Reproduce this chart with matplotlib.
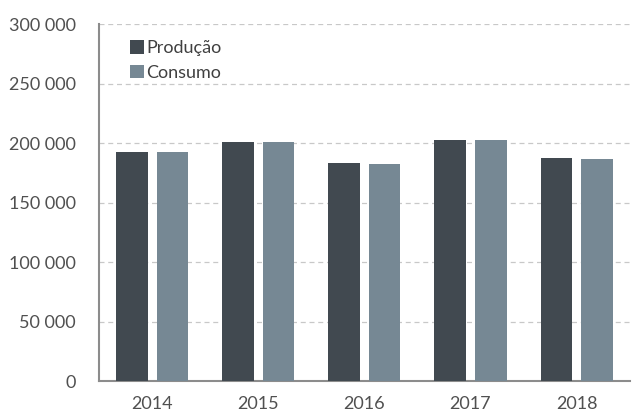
import numpy as np
import matplotlib.pyplot as plt
from matplotlib.ticker import FuncFormatter

years = ['2014', '2015', '2016', '2017', '2018']
producao = [192500, 201200, 182900, 202300, 187100]
consumo = [192400, 201100, 182800, 202200, 187000]

plt.rcParams['font.family'] = ['Lato', 'DejaVu Sans']

def main():
    fig = plt.figure(figsize=(6.36, 4.16), dpi=100)
    ax = fig.add_axes([0.156, 0.084, 0.834, 0.858])

    x = np.arange(len(years))
    w = 0.30
    ax.bar(x - 0.19, producao, w, color='#414950', label='Produção', zorder=3)
    ax.bar(x + 0.19, consumo, w, color='#768894', label='Consumo', zorder=3)

    ax.set_ylim(0, 300000)
    ax.set_xlim(-0.5, len(years) - 0.5)
    ax.set_yticks(np.arange(0, 300001, 50000))
    ax.yaxis.set_major_formatter(FuncFormatter(lambda v, p: f'{int(v):,}'.replace(',', ' ')))
    ax.set_xticks(x)
    ax.set_xticklabels(years)

    ax.grid(axis='y', linestyle=(0, (4, 3)), color='#c8c8c8', linewidth=0.9, zorder=0)
    for s in ['top', 'right']:
        ax.spines[s].set_visible(False)
    ax.spines['left'].set_color('#8c8c8c')
    ax.spines['left'].set_linewidth(1.5)
    ax.spines['bottom'].set_color('#8c8c8c')
    ax.spines['bottom'].set_linewidth(1.5)
    ax.tick_params(length=0, labelsize=13, colors='#505050')
    ax.tick_params(axis='y', pad=17)
    ax.tick_params(axis='x', pad=11)

    ax.legend(loc='upper left', bbox_to_anchor=(0.028, 1.0), frameon=False,
              fontsize=13, handlelength=0.75, handleheight=0.75, handletextpad=0.15,
              labelspacing=0.45, labelcolor='#404040')

    fig.savefig('out.png', dpi=100)

if __name__ == "__main__":
    main()
